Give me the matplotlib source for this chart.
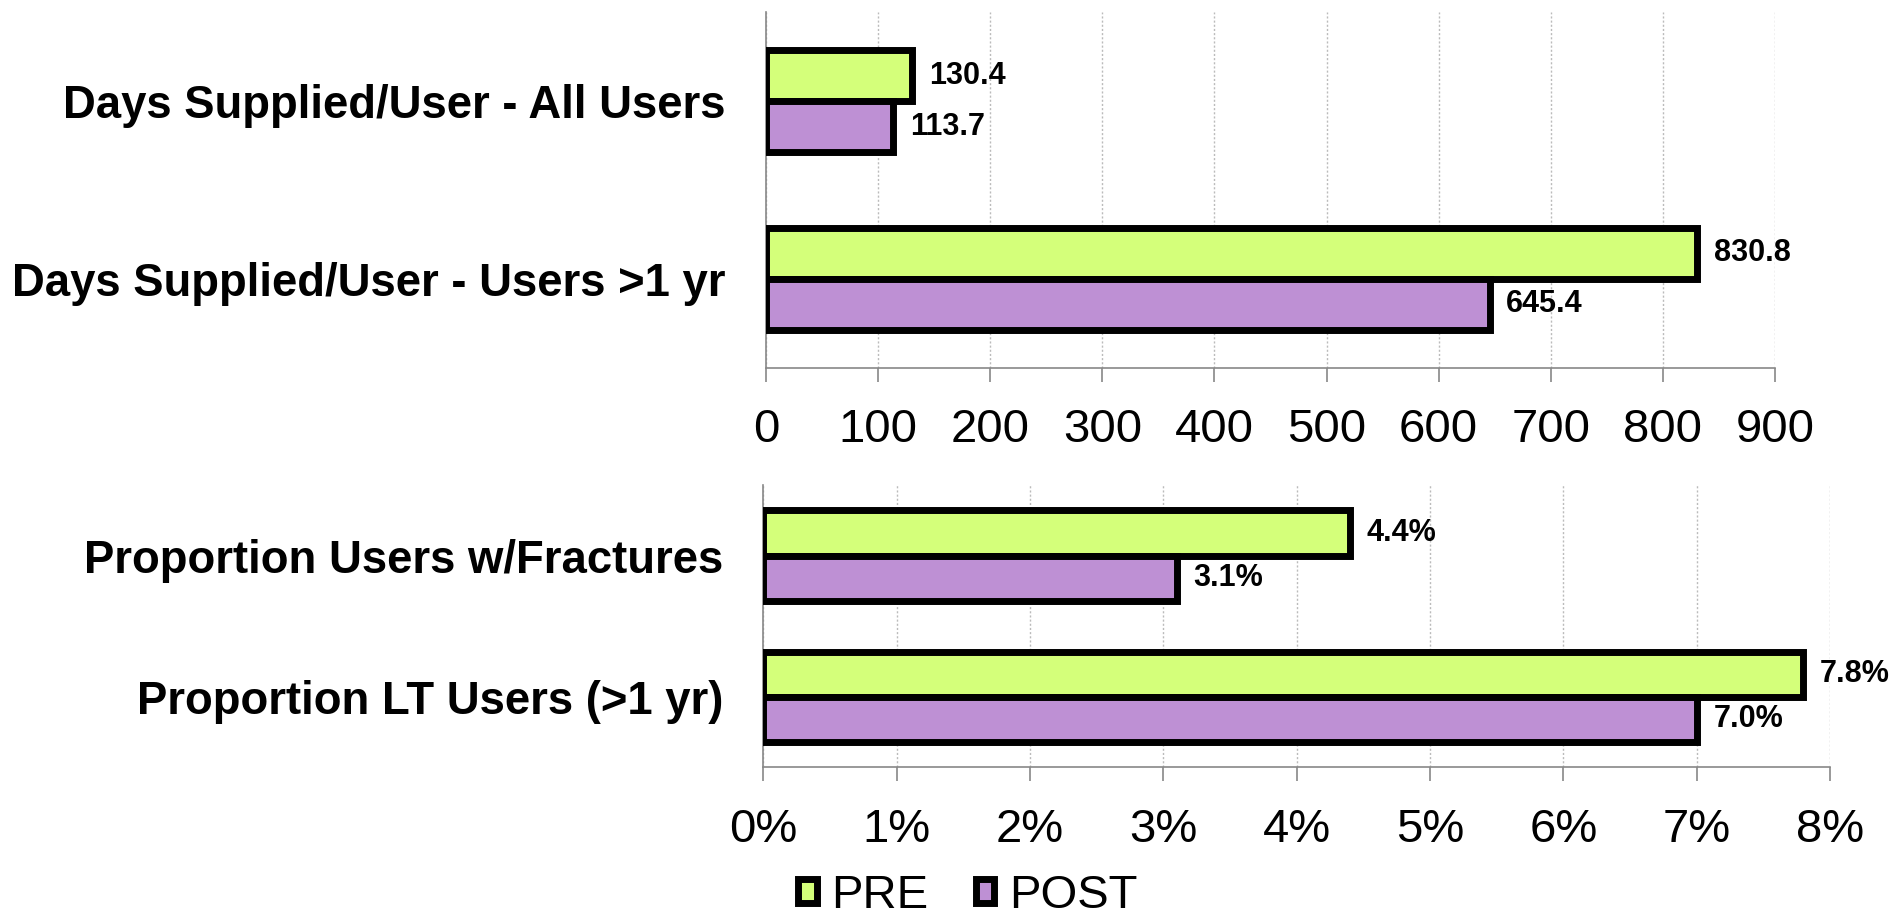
import matplotlib.pyplot as plt
from matplotlib.patches import Patch
from matplotlib.ticker import FuncFormatter

plt.rcParams['font.family'] = ['Liberation Sans', 'DejaVu Sans']

pre_color = "#D4FF7A"
post_color = "#BE90D4"

# top panel: days supplied per user
days_labels = ["Days Supplied/User - All Users", "Days Supplied/User - Users >1 yr"]
days_pre = [130.4, 830.8]
days_post = [113.7, 645.4]

# bottom panel: proportions (percent)
prop_labels = ["Proportion Users w/Fractures", "Proportion LT Users (>1 yr)"]
prop_pre = [4.4, 7.8]
prop_post = [3.1, 7.0]

fig = plt.figure(figsize=(18.9, 9.18), dpi=100)
ax1 = fig.add_axes([766 / 1890, 1 - 367.7 / 918, (1775 - 766) / 1890, (367.7 - 12.3) / 918])
ax2 = fig.add_axes([763.3 / 1890, 1 - 767.3 / 918, (1830 - 763.3) / 1890, (767.3 - 485) / 918])


def draw_panel(ax, labels, pre, post, h, xmax, step, fmt_val, fmt_tick):
    pos = list(range(len(labels)))
    pre_y = [p - h / 2 for p in pos]
    post_y = [p + h / 2 for p in pos]
    b1 = ax.barh(pre_y, pre, height=h, color=pre_color, edgecolor="black", linewidth=5, zorder=3)
    b2 = ax.barh(post_y, post, height=h, color=post_color, edgecolor="black", linewidth=5, zorder=3)
    ax.bar_label(b1, labels=[fmt_val(v) for v in pre], padding=12, fontsize=22, fontweight="bold")
    ax.bar_label(b2, labels=[fmt_val(v) for v in post], padding=12, fontsize=22, fontweight="bold")
    ax.set_ylim(len(labels) - 0.5, -0.5)
    ax.set_xlim(0, xmax)
    ax.set_xticks([i * step for i in range(int(round(xmax / step)) + 1)])
    ax.xaxis.set_major_formatter(FuncFormatter(fmt_tick))
    ax.set_yticks(pos)
    ax.set_yticklabels(labels, fontsize=32.8, fontweight="bold")
    ax.tick_params(axis="y", length=0, pad=29)
    ax.tick_params(axis="x", length=10, width=1.2, color="#888888", labelsize=34, pad=19)
    ax.grid(axis="x", linestyle=(0, (1.5, 1.5)), color="#BBBBBB", linewidth=1, zorder=0)
    for s in ["top", "right"]:
        ax.spines[s].set_visible(False)
    for s in ["left", "bottom"]:
        ax.spines[s].set_color("#888888")
        ax.spines[s].set_linewidth(1.2)
    ax.set_axisbelow(True)


draw_panel(ax1, days_labels, days_pre, days_post, 0.286, 900, 100,
           lambda v: f"{v:.1f}", lambda x, p: f"{x:.0f}")
draw_panel(ax2, prop_labels, prop_pre, prop_post, 0.32, 8, 1,
           lambda v: f"{v:.1f}%", lambda x, p: f"{x:.0f}%")

handles = [Patch(facecolor=pre_color, edgecolor="black", linewidth=5, label="PRE"),
           Patch(facecolor=post_color, edgecolor="black", linewidth=5, label="POST")]
fig.legend(handles=handles, loc="center", bbox_to_anchor=(0.512, 0.024), ncol=2,
           frameon=False, fontsize=34, handlelength=0.4, handleheight=0.4,
           handletextpad=0.3, columnspacing=1.0, borderpad=0)

fig.savefig("out.png", dpi=100)
